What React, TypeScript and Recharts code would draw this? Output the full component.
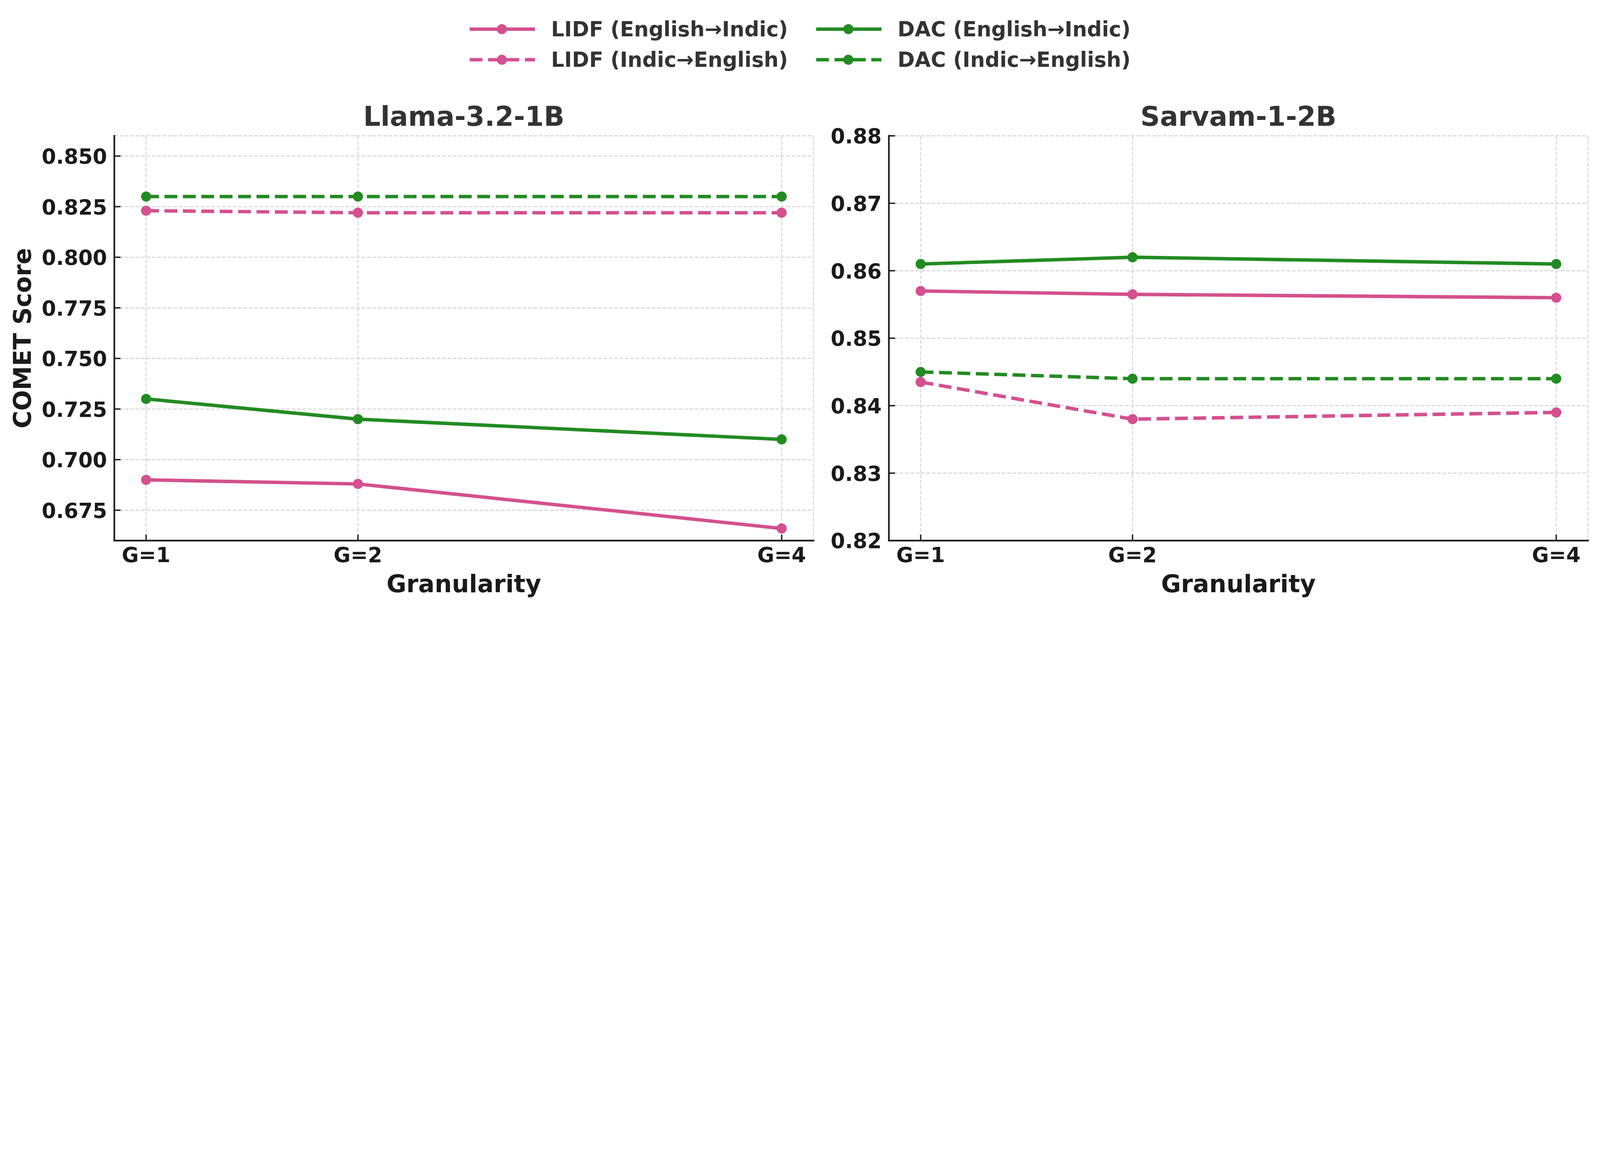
import React from "react";
import { LineChart, Line, XAxis, YAxis, CartesianGrid } from "recharts";

// granularity levels on the x axis
const granularity = [1, 2, 4];
const granularityLabels = ["G=1", "G=2", "G=4"];

// Llama-3.2-1B
const llamaLidfEnIn = [0.69, 0.688, 0.666];
const llamaLidfInEn = [0.823, 0.822, 0.822];
const llamaDacEnIn = [0.73, 0.72, 0.71];
const llamaDacInEn = [0.83, 0.83, 0.83];

// Sarvam-1-2B
const sarvamLidfEnIn = [0.857, 0.8565, 0.856];
const sarvamLidfInEn = [0.8435, 0.838, 0.839];
const sarvamDacEnIn = [0.861, 0.862, 0.861];
const sarvamDacInEn = [0.845, 0.844, 0.844];

const llamaTicks = [0.675, 0.7, 0.725, 0.75, 0.775, 0.8, 0.825, 0.85];
const sarvamTicks = [0.82, 0.83, 0.84, 0.85, 0.86, 0.87, 0.88];

const seriesNames = [
  "LIDF (English→Indic)",
  "LIDF (Indic→English)",
  "DAC (English→Indic)",
  "DAC (Indic→English)",
];

const PINK = "#d4508e";
const GREEN = "#228b22";
const INK = "#1a1a1a";
const FONT = "'DejaVu Sans', sans-serif";

const series = [
  { key: "lidfEnIn", name: seriesNames[0], color: PINK, dashed: false },
  { key: "lidfInEn", name: seriesNames[1], color: PINK, dashed: true },
  { key: "dacEnIn", name: seriesNames[2], color: GREEN, dashed: false },
  { key: "dacInEn", name: seriesNames[3], color: GREEN, dashed: true },
];

const toRows = (cols: number[][]) =>
  granularity.map((g, i) => {
    const row: Record<string, number> = { g };
    series.forEach((s, j) => (row[s.key] = cols[j][i]));
    return row;
  });

const llamaRows = toRows([llamaLidfEnIn, llamaLidfInEn, llamaDacEnIn, llamaDacInEn]);
const sarvamRows = toRows([sarvamLidfEnIn, sarvamLidfInEn, sarvamDacEnIn, sarvamDacInEn]);

// the figure is laid out at 7740x2949 and scaled down to whatever the window shows
const W = 7740;
const H = 2949;
const PLOT_TOP = 657;
const PLOT_BOTTOM = 2615;

const panels = [
  {
    title: "Llama-3.2-1B",
    left: 0,
    width: 3990,
    plotLeft: 553,
    plotRight: 3935,
    rows: llamaRows,
    ticks: llamaTicks,
    domain: [0.66, 0.86],
    digits: 3,
  },
  {
    title: "Sarvam-1-2B",
    left: 3990,
    width: 3750,
    plotLeft: 4300,
    plotRight: 7682,
    rows: sarvamRows,
    ticks: sarvamTicks,
    domain: [0.82, 0.88],
    digits: 2,
  },
];

function XTick(props: any) {
  const { x, y, payload } = props;
  const label = granularityLabels[granularity.indexOf(payload.value)];
  return (
    <g>
      <line x1={x} y1={y} x2={x} y2={y - 29} stroke={INK} strokeWidth={6.5} />
      <text x={x} y={y + 105} textAnchor="middle" fontFamily={FONT} fontWeight="bold" fontSize={100} fill={INK}>
        {label}
      </text>
    </g>
  );
}

function YTick(props: any) {
  const { x, y, payload, digits } = props;
  return (
    <g>
      <line x1={x} y1={y} x2={x + 30} y2={y} stroke={INK} strokeWidth={6.5} />
      <text x={x - 35} y={y + 37} textAnchor="end" fontFamily={FONT} fontWeight="bold" fontSize={100} fill={INK}>
        {payload.value.toFixed(digits)}
      </text>
    </g>
  );
}

function Panel({ p }: { p: (typeof panels)[number] }) {
  return (
    <div style={{ position: "absolute", left: p.left, top: 0 }}>
      <LineChart
        width={p.width}
        height={H}
        data={p.rows}
        margin={{ top: PLOT_TOP, right: p.left + p.width - p.plotRight, bottom: 0, left: 0 }}
      >
        <CartesianGrid stroke="#d6d6d6" strokeWidth={5} strokeDasharray="18 8" />
        <XAxis
          type="number"
          dataKey="g"
          domain={[0.85, 4.15]}
          ticks={granularity}
          interval={0}
          allowDataOverflow
          height={H - PLOT_BOTTOM}
          tickSize={0}
          tickMargin={0}
          tickLine={false}
          axisLine={{ stroke: INK, strokeWidth: 8, strokeLinecap: "square" }}
          tick={(t: any) => <XTick {...t} />}
        />
        <YAxis
          type="number"
          domain={p.domain}
          ticks={p.ticks}
          interval={0}
          allowDataOverflow
          width={p.plotLeft - p.left}
          tickSize={0}
          tickMargin={0}
          tickLine={false}
          axisLine={{ stroke: INK, strokeWidth: 8, strokeLinecap: "square" }}
          tick={(t: any) => <YTick {...t} digits={p.digits} />}
        />
        {series.map((s) => (
          <Line
            key={s.key}
            type="linear"
            dataKey={s.key}
            name={s.name}
            stroke={s.color}
            strokeWidth={16.7}
            strokeDasharray={s.dashed ? "62 27" : undefined}
            dot={{ r: 24.5, fill: s.color, stroke: "none", strokeDasharray: "none" }}
            activeDot={false}
            isAnimationActive={false}
          />
        ))}
      </LineChart>
    </div>
  );
}

// legend: two columns (LIDF, DAC), two rows (English→Indic, Indic→English)
const legendCols = [2272, 3948];
const legendRows = [141, 289];

export default function App() {
  const vw = typeof window !== "undefined" ? window.innerWidth : W;
  const vh = typeof window !== "undefined" ? window.innerHeight : H;
  const scale = Math.min(1, vw / W, vh / H);

  return (
    <div style={{ width: W * scale, height: H * scale, overflow: "hidden", background: "#fff" }}>
      <style>{`body{margin:0;background:#fff}`}</style>
      <div
        style={{
          position: "relative",
          width: W,
          height: H,
          transform: `scale(${scale})`,
          transformOrigin: "0 0",
        }}
      >
        {panels.map((p) => (
          <Panel key={p.title} p={p} />
        ))}

        <svg
          width={W}
          height={H}
          style={{ position: "absolute", left: 0, top: 0, pointerEvents: "none" }}
          fontFamily={FONT}
          fontWeight="bold"
        >
          {panels.map((p) => {
            const cx = (p.plotLeft + p.plotRight) / 2;
            return (
              <g key={p.title}>
                <text x={cx} y={608} textAnchor="middle" fontSize={131} fill="#333333">
                  {p.title}
                </text>
                <text x={cx} y={2864} textAnchor="middle" fontSize={117} fill={INK}>
                  Granularity
                </text>
              </g>
            );
          })}
          <text
            x={149}
            y={(PLOT_TOP + PLOT_BOTTOM) / 2}
            transform={`rotate(-90 149 ${(PLOT_TOP + PLOT_BOTTOM) / 2})`}
            textAnchor="middle"
            fontSize={117}
            fill={INK}
          >
            COMET Score
          </text>

          {series.map((s, i) => {
            const x0 = legendCols[Math.floor(i / 2)];
            const y0 = legendRows[i % 2];
            return (
              <g key={s.key}>
                <line
                  x1={x0}
                  y1={y0}
                  x2={x0 + 316}
                  y2={y0}
                  stroke={s.color}
                  strokeWidth={16.7}
                  strokeDasharray={s.dashed ? "62 27" : undefined}
                />
                <circle cx={x0 + 156} cy={y0} r={24.5} fill={s.color} />
                <text x={x0 + 394} y={y0 + 35} fontSize={100} fill="#333333">
                  {s.name}
                </text>
              </g>
            );
          })}
        </svg>
      </div>
    </div>
  );
}
